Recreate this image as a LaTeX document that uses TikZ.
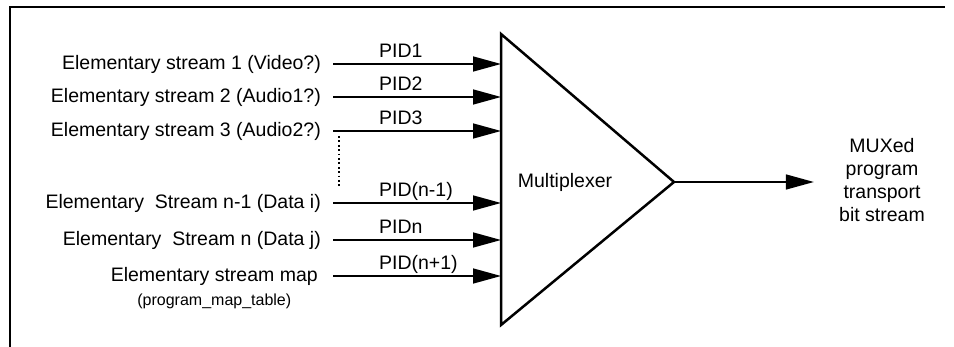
\documentclass[tikz,border=0pt]{standalone}
\usepackage{fontspec}
\setmainfont{Liberation Sans}
\usepackage{tikz}
\usetikzlibrary{arrows.meta, positioning}
\tikzstyle{txt} = [font=\fontsize{19.5}{23.3}\selectfont]
\tikzstyle{stream} = [txt, anchor=east, inner xsep=12pt, inner ysep=0pt]
\tikzstyle{pid} = [txt, anchor=base west, inner sep=0pt, yshift=6pt]
\tikzstyle{arrow} = [line width=1.5pt, -{Triangle[length=28pt, width=15pt]}]
\tikzstyle{frame} = [line width=2.5pt]
\tikzstyle{dots} = [line width=1.6pt, dash pattern=on 1.8pt off 2.6pt]

\begin{document}
\begin{tikzpicture}[x=1pt, y=-1pt]
      \useasboundingbox (0,0) rectangle (954,347);
      \draw [frame] (10,347) -- (10,7) -- (945,7);
      \coordinate (top) at (501,34);
      \coordinate (bot) at (501,325);
      \coordinate (apex) at (674,182);
      \draw [frame, line join=miter] (top) -- (apex) -- (bot) -- cycle;
      \node (mux) [txt] at (565,182) {Multiplexer};
      \node (s1) [stream] at (333,64) {Elementary stream 1 (Video?)};
      \draw [arrow] (s1.east) -- (s1.east -| top) node [pid, pos=0.27] {PID1};
      \node (s2) [stream] at (333,97) {Elementary stream 2 (Audio1?)};
      \draw [arrow] (s2.east) -- (s2.east -| top) node [pid, pos=0.27] {PID2};
      \node (s3) [stream] at (333,131) {Elementary stream 3 (Audio2?)};
      \draw [arrow] (s3.east) -- (s3.east -| top) node [pid, pos=0.27] {PID3};
      \node (sn1) [stream] at (333,203) {Elementary\ \ Stream n-1 (Data i)};
      \draw [arrow] (sn1.east) -- (sn1.east -| top) node [pid, pos=0.27] {PID(n-1)};
      \node (sn) [stream] at (333,240) {Elementary\ \ Stream n (Data j)};
      \draw [arrow] (sn.east) -- (sn.east -| top) node [pid, pos=0.27] {PIDn};
      \node (map) [stream, inner xsep=15pt] at (333,276) {Elementary stream map};
      \draw [arrow] (map.east) -- (map.east -| top) node [pid, pos=0.27] {PID(n+1)};
      \node (pmt) [below=5pt of map, font=\fontsize{16}{19}\selectfont] {(program\_map\_table)};
      \coordinate (dtop) at (339,136);
      \coordinate (dbot) at (339,187);
      \draw [dots] (dtop) -- (dbot);
      \node (out) [txt, align=center, outer sep=22pt] at (882,180) {MUXed\\program\\transport\\bit stream};
      \draw [arrow] (apex) -- (out.west |- apex);
\end{tikzpicture}
\end{document}
